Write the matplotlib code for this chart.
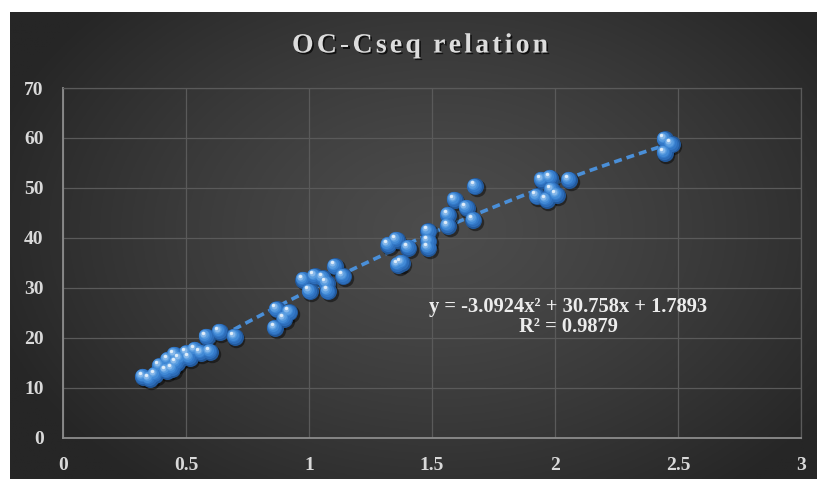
import numpy as np
import matplotlib
matplotlib.use("Agg")
import matplotlib.pyplot as plt
import matplotlib.patheffects as pe
from matplotlib.transforms import offset_copy

# OC vs Cseq measurements
oc = [0.326, 0.352, 0.375, 0.394, 0.421, 0.428, 0.445, 0.455, 0.462, 0.475,
      0.503, 0.515, 0.537, 0.560, 0.584, 0.598, 0.638, 0.699,
      0.862, 0.869, 0.900, 0.920,
      0.977, 1.004, 1.024, 1.058, 1.072, 1.078, 1.106, 1.140,
      1.323, 1.356, 1.362, 1.377, 1.404, 1.485, 1.485, 1.485,
      1.566, 1.566, 1.593, 1.641, 1.668, 1.675,
      1.926, 1.946, 1.966, 1.980, 1.987, 2.007, 2.058,
      2.447, 2.447, 2.474]
cseq = [12.2, 11.8, 12.6, 14.3, 13.3, 15.6, 13.8, 16.6, 14.9, 15.8,
        16.9, 16.0, 17.6, 17.0, 20.2, 17.2, 21.2, 20.2,
        21.9, 25.7, 23.8, 25.1,
        31.6, 29.3, 32.3, 31.9, 30.9, 29.3, 34.3, 32.3,
        38.6, 39.6, 34.6, 35.0, 38.0, 41.3, 39.3, 38.0,
        44.6, 42.4, 47.6, 46.0, 43.6, 50.3,
        48.3, 51.6, 47.6, 52.0, 49.6, 48.6, 51.6,
        59.7, 57.0, 58.7]

# polynomial trendline (order 2)
coef = [-3.0924, 30.758, 1.7893]
r2 = 0.9879

xticks = [0, 0.5, 1, 1.5, 2, 2.5, 3]
xlabels = ["0", "0.5", "1", "1.5", "2", "2.5", "3"]
yticks = [0, 10, 20, 30, 40, 50, 60, 70]
title = "OC-Cseq relation"

W, H = 817, 479
fig = plt.figure(figsize=(W / 100, H / 100), dpi=100, facecolor="white")

# dark radial background of the chart area
bg = fig.add_axes([10 / W, 0, 1 - 10 / W, 467 / H], zorder=-10)
gx, gy = np.meshgrid(np.linspace(10, W, 400), np.linspace(12, H, 240))
r = np.sqrt(((gx - 440) / 470) ** 2 + ((gy - 230) / 330) ** 2)
r = np.clip(r, 0, 1) ** 1.3
c0, c1 = 0x4c / 255, 0x26 / 255
shade = c0 - (c0 - c1) * r
bg.imshow(np.dstack([shade] * 3), aspect="auto", extent=[0, 1, 0, 1], origin="upper")
bg.set_axis_off()

ax = fig.add_axes([63 / W, (H - 437.7) / H, (801 - 63) / W, (437.7 - 88) / H])
ax.set_facecolor("none")
ax.set_xlim(0, 3)
ax.set_ylim(0, 70)
ax.set_xticks(xticks)
ax.set_xticklabels(xlabels)
ax.set_yticks(yticks)
ax.grid(True, color="#5a5a5a", linewidth=0.9)
ax.set_axisbelow(True)
for side in ["top", "right"]:
    ax.spines[side].set_color("#5a5a5a")
    ax.spines[side].set_linewidth(0.9)
for side in ["left", "bottom"]:
    ax.spines[side].set_color("#8c8c8c")
    ax.spines[side].set_linewidth(1.3)
ax.tick_params(length=0, colors="#d9d9d9", labelsize=14)
ax.tick_params(axis="x", pad=14)
ax.tick_params(axis="y", pad=14)
for lab in ax.get_xticklabels() + ax.get_yticklabels():
    lab.set_fontfamily("Liberation Serif")
    lab.set_fontweight("bold")

# trendline
xs = np.linspace(min(oc), max(oc), 200)
ax.plot(xs, np.polyval(coef, xs), color="#4a8fd8", linewidth=2.6,
        dashes=(2.2, 1.4), zorder=2)

# shaded spheres
s = 150
tr = ax.transData
ax.scatter(oc, cseq, s=s * 1.05, color="black", alpha=0.45, linewidths=0,
           transform=offset_copy(tr, fig=fig, x=1.5, y=-2.0, units="dots"), zorder=3)
ax.scatter(oc, cseq, s=s, color="#22589a", linewidths=0, zorder=4)
layers = [(0.80, "#2c6cb8", 0.8), (0.60, "#3479c8", 1.5), (0.42, "#428ad6", 2.2),
          (0.26, "#5a9de0", 2.8), (0.12, "#86b8ea", 3.2)]
for k, (f, col, off) in enumerate(layers):
    ax.scatter(oc, cseq, s=s * f, color=col, linewidths=0, zorder=5 + k,
               transform=offset_copy(tr, fig=fig, x=-off, y=off, units="dots"))
ax.scatter(oc, cseq, s=s * 0.04, color="white", alpha=0.75, linewidths=0, zorder=11,
           transform=offset_copy(tr, fig=fig, x=-3.5, y=4.0, units="dots"))

eq = "y = {:.4f}x² + {:.3f}x + {:.4f}\nR² = {:.4f}".format(coef[0], coef[1], coef[2], r2)
ax.text((568 - 63) / (801 - 63), (437.7 - 317) / (437.7 - 88), eq,
        transform=ax.transAxes, ha="center", va="center", color="#ececec",
        fontsize=14.8, fontweight="bold", family="Liberation Serif",
        linespacing=1.0, zorder=12)

# title with widened letter spacing, one glyph at a time
renderer = fig.canvas.get_renderer()
tkw = dict(color="#dcdcdc", fontsize=20, fontweight="bold", family="Liberation Serif",
           va="center", ha="left",
           path_effects=[pe.withSimplePatchShadow(offset=(1.2, -1.2),
                                                  shadow_rgbFace="black", alpha=0.7)])
widths = []
for ch in title:
    t = fig.text(0, 0, ch.replace(" ", "\u00a0"), **tkw)
    bb = t.get_window_extent(renderer)
    widths.append(bb.width if ch != " " else 6)
    t.remove()
target = 256
gap = (target - sum(widths)) / (len(title) - 1)
x = 420 - target / 2
for ch, w in zip(title, widths):
    if ch != " ":
        fig.text(x / W, 1 - 46 / H, ch, **tkw)
    x += w + gap

fig.savefig("out.png", dpi=100)
